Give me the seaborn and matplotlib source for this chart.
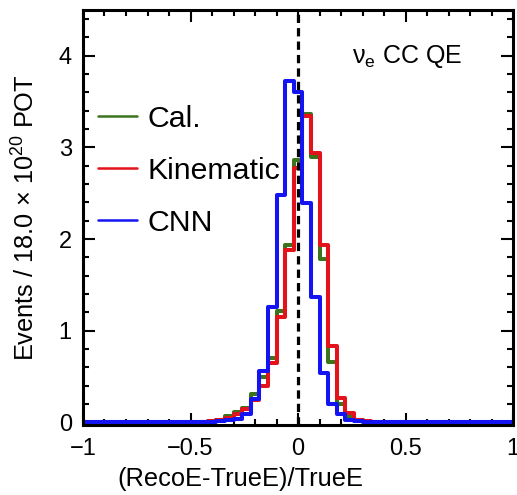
import numpy as np
import pandas as pd
import matplotlib
matplotlib.use("Agg")
import matplotlib.pyplot as plt
import seaborn as sns
from matplotlib.lines import Line2D
from matplotlib.ticker import FixedLocator, MultipleLocator

# ---------------- data ----------------
bin_centers = [-0.40, -0.36, -0.32, -0.28, -0.24, -0.20, -0.16, -0.12, -0.08, -0.04,
               0.00, 0.04, 0.08, 0.12, 0.16, 0.20, 0.24, 0.28, 0.32]
cal_values = [0.01, 0.03, 0.07, 0.11, 0.16, 0.31, 0.49, 0.70, 1.21, 1.94,
              2.86, 3.36, 2.89, 1.78, 0.66, 0.20, 0.07, 0.02, 0.005]
kinematic_values = [0.01, 0.02, 0.05, 0.09, 0.14, 0.24, 0.40, 0.65, 1.15, 1.88,
                    2.78, 3.34, 2.94, 1.93, 0.83, 0.26, 0.10, 0.03, 0.01]
cnn_values = [0.00, 0.01, 0.02, 0.04, 0.09, 0.25, 0.56, 1.26, 2.48, 3.72,
              3.61, 2.39, 1.37, 0.54, 0.20, 0.09, 0.02, 0.01, 0.00]
series_labels = ["Cal.", "Kinematic", "CNN"]
series_colors = ["#3b741c", "#e3121b", "#1414f2"]

xtick_values = [-1, -0.5, 0, 0.5, 1]
xtick_labels = ["\u22121", "\u22120.5", "0", "0.5", "1"]
ytick_values = [0, 1, 2, 3, 4]
ytick_labels = ["0", "1", "2", "3", "4"]

x_label = "(RecoE-TrueE)/TrueE"
y_label = r"Events / 18.0 $\mathregular{\times}$ 10$^{\mathregular{20}}$ POT"
annotation = r"$\mathregular{\nu_e}$ CC QE"

# ---------------- style ----------------
sns.set_style("ticks")
plt.rcParams["font.family"] = ["Liberation Sans", "DejaVu Sans"]
plt.rcParams["mathtext.fontset"] = "custom"
plt.rcParams["mathtext.rm"] = "Liberation Sans"
plt.rcParams["mathtext.it"] = "Liberation Sans"
plt.rcParams["axes.unicode_minus"] = True
plt.rcParams["text.color"] = "black"
plt.rcParams["axes.labelcolor"] = "black"
plt.rcParams["xtick.color"] = "black"
plt.rcParams["ytick.color"] = "black"
plt.rcParams["xtick.labelcolor"] = "black"
plt.rcParams["ytick.labelcolor"] = "black"

fig = plt.figure(figsize=(5.17, 4.95), dpi=100)
ax = fig.add_axes([0.1605, 0.1414, 0.832, 0.8384])

edges = [-1.0] + [float(v) for v in np.round(np.arange(-0.98, 0.99, 0.04), 2)] + [1.0]

frames = []
for lab, vals in zip(series_labels, [cal_values, kinematic_values, cnn_values]):
    frames.append(pd.DataFrame({"x": bin_centers, "w": vals, "method": lab}))
df = pd.concat(frames, ignore_index=True)

for lab, col in zip(series_labels, series_colors):
    sns.histplot(data=df[df["method"] == lab], x="x", weights="w", bins=edges,
                 element="step", fill=False, color=col, linewidth=2.9,
                 ax=ax, legend=False)

ax.axvline(0, color="black", linewidth=2.3, linestyle=(0, (2.6, 1.6)), zorder=5)

ax.set_xlim(-1, 1)
ax.set_ylim(-0.03, 4.5)

ax.xaxis.set_major_locator(FixedLocator(xtick_values))
ax.set_xticklabels(xtick_labels)
ax.xaxis.set_minor_locator(MultipleLocator(0.1))
ax.yaxis.set_major_locator(FixedLocator(ytick_values))
ax.set_yticklabels(ytick_labels)
ax.yaxis.set_minor_locator(MultipleLocator(0.2))

ax.tick_params(which="both", direction="in", top=True, right=True,
               color="black", labelcolor="black", width=1.5, labelsize=17)
ax.tick_params(which="major", length=8.5)
ax.tick_params(which="minor", length=4.3)
ax.tick_params(axis="x", which="major", pad=9)
ax.tick_params(axis="y", which="major", pad=8)

for sp in ax.spines.values():
    sp.set_linewidth(2.2)
    sp.set_color("black")

ax.set_xlabel(x_label, fontsize=18.3, color="black")
ax.set_ylabel(y_label, fontsize=18.3, color="black")
ax.xaxis.set_label_coords(0.365, -0.10)
ax.yaxis.set_label_coords(-0.10, 0.5)

ax.text(0.626, 0.872, annotation, transform=ax.transAxes, fontsize=18,
        ha="left", va="baseline", color="black")

handles = [Line2D([], [], color=c, linewidth=1.8) for c in series_colors]
leg = ax.legend(handles, series_labels, loc="upper left", bbox_to_anchor=(0.035, 0.772),
                frameon=False, fontsize=21.8, handlelength=1.3, handletextpad=0.33,
                labelspacing=0.8, borderpad=0, borderaxespad=0)
for t in leg.get_texts():
    t.set_color("black")

fig.savefig("out.png", dpi=100)
